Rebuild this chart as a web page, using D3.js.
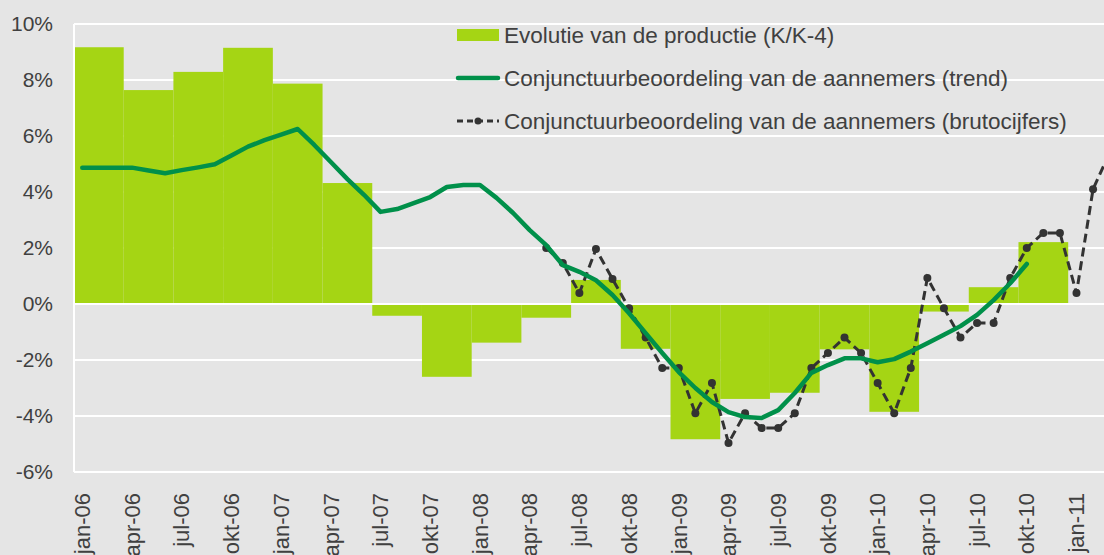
<!DOCTYPE html>
<html>
<head>
<meta charset="utf-8">
<script src="https://cdn.jsdelivr.net/npm/d3@7"></script>
<style>
  body { margin: 0; background: #e5e5e5; }
  svg { display: block; font-family: "Liberation Sans", Arial, sans-serif; }
</style>
</head>
<body>
<div id="chart"></div>
<script>
const monthNames = ["jan", "feb", "mrt", "apr", "mei", "jun", "jul", "aug", "sep", "okt", "nov", "dec"];

// jan-06 .. mar-11
const months = [];
for (let y = 6; y <= 11; y++) {
  monthNames.forEach((m, i) => {
    if (y < 11 || i < 3) months.push(m + "-" + String(y).padStart(2, "0"));
  });
}

const tickLabels = months.filter((m, i) => i % 3 === 0);

// Evolutie van de productie (K/K-4), one value per quarter, Q1-06 .. Q4-10
const production = [9.17, 7.64, 8.29, 9.15, 7.87, 4.32, -0.42, -2.6, -1.38, -0.49,
  0.86, -1.6, -4.83, -3.39, -3.17, -1.62, -3.85, -0.27, 0.6, 2.21];

// trend, jan-06 .. okt-10
const trend = [
  4.87, 4.87, 4.87, 4.87, 4.77, 4.67, 4.78, 4.88, 4.99, 5.3, 5.62, 5.85,
  6.05, 6.25, 5.68, 5.07, 4.46, 3.9, 3.29, 3.39, 3.6, 3.82, 4.18, 4.25,
  4.25, 3.79, 3.25, 2.64, 2.1, 1.39, 1.15, 0.85, 0.32, -0.33, -1.04, -1.75,
  -2.43, -3.0, -3.5, -3.86, -4.04, -4.07, -3.79, -3.18, -2.46, -2.18, -1.94, -1.94,
  -2.08, -1.97, -1.7, -1.4, -1.1, -0.79, -0.39, 0.14, 0.74, 1.43
];

// brutocijfers, mei-08 .. mrt-11
const brutoStart = "mei-08";
const bruto = [
  2.0, 1.46, 0.39, 1.96, 0.89, -0.15, -1.2, -2.29,
  -2.29, -3.9, -2.82, -4.96, -3.9, -4.43, -4.43, -3.9, -2.29, -1.75, -1.2, -1.75,
  -2.82, -3.9, -2.29, 0.93, -0.15, -1.2, -0.68, -0.68, 0.93, 2.0, 2.54, 2.54,
  0.39, 4.1, 5.4
];

const yTicks = [-6, -4, -2, 0, 2, 4, 6, 8, 10];

const legendItems = [
  "Evolutie van de productie (K/K-4)",
  "Conjunctuurbeoordeling van de aannemers (trend)",
  "Conjunctuurbeoordeling van de aannemers (brutocijfers)"
];

const w = 1104;
const h = 555;
const plotLeft = 74;
const plotTop = 24;
const plotBottom = 472;
const monthWidth = 16.57;

const barColor = "#a5d514";
const trendColor = "#00904a";
const brutoColor = "#333333";
const textColor = "#404040";

const svg = d3.select("#chart")
  .append("svg")
  .attr("width", w)
  .attr("height", h);

svg.append("rect")
  .attr("width", w)
  .attr("height", h)
  .attr("fill", "#e5e5e5");

const xScale = d3.scaleBand()
  .domain(months)
  .range([plotLeft, plotLeft + months.length * monthWidth])
  .padding(0);

const yScale = d3.scaleLinear()
  .domain([-6, 10])
  .range([plotBottom, plotTop]);

const xMid = (m) => xScale(m) + xScale.bandwidth() / 2;

// gridlines
svg.append("g")
  .selectAll("line")
  .data(yTicks)
  .enter()
  .append("line")
  .attr("x1", plotLeft)
  .attr("x2", w)
  .attr("y1", (d) => yScale(d))
  .attr("y2", (d) => yScale(d))
  .attr("stroke", "white")
  .attr("stroke-width", 2);

// bars
svg.append("g")
  .selectAll("rect")
  .data(production)
  .enter()
  .append("rect")
  .attr("x", (d, i) => xScale(months[i * 3]))
  .attr("width", xScale.bandwidth() * 3)
  .attr("y", (d) => yScale(Math.max(0, d)))
  .attr("height", (d) => Math.abs(yScale(d) - yScale(0)))
  .attr("fill", barColor);

// zero line + left axis line
svg.append("line")
  .attr("x1", plotLeft).attr("x2", w)
  .attr("y1", yScale(0)).attr("y2", yScale(0))
  .attr("stroke", "white")
  .attr("stroke-width", 2);

svg.append("line")
  .attr("x1", plotLeft).attr("x2", plotLeft)
  .attr("y1", yScale(10)).attr("y2", yScale(-6))
  .attr("stroke", "white")
  .attr("stroke-width", 2);

// bruto dashed line
const brutoOffset = months.indexOf(brutoStart);
const brutoLine = d3.line()
  .x((d, i) => xMid(months[brutoOffset + i]))
  .y((d) => yScale(d));

svg.append("path")
  .datum(bruto)
  .attr("d", brutoLine)
  .attr("fill", "none")
  .attr("stroke", brutoColor)
  .attr("stroke-width", 3)
  .attr("stroke-dasharray", "9,5");

svg.append("g")
  .selectAll("circle")
  .data(bruto)
  .enter()
  .append("circle")
  .attr("cx", (d, i) => xMid(months[brutoOffset + i]))
  .attr("cy", (d) => yScale(d))
  .attr("r", 4)
  .attr("fill", brutoColor);

// trend line
const trendLine = d3.line()
  .x((d, i) => xMid(months[i]))
  .y((d) => yScale(d));

svg.append("path")
  .datum(trend)
  .attr("d", trendLine)
  .attr("fill", "none")
  .attr("stroke", trendColor)
  .attr("stroke-width", 4.5)
  .attr("stroke-linejoin", "round")
  .attr("stroke-linecap", "round");

// y axis
const yAxis = d3.axisLeft(yScale)
  .tickValues(yTicks)
  .tickSize(0)
  .tickPadding(0)
  .tickFormat((d) => d + "%");

svg.append("g")
  .attr("transform", "translate(53,0)")
  .call(yAxis)
  .call((g) => g.select(".domain").remove())
  .selectAll("text")
  .attr("fill", textColor)
  .style("font-size", "21px")
  .style("font-family", "'Liberation Sans', Arial, sans-serif");

// x axis
const xAxis = d3.axisBottom(xScale)
  .tickValues(tickLabels)
  .tickSize(0);

svg.append("g")
  .attr("transform", "translate(0," + plotBottom + ")")
  .call(xAxis)
  .call((g) => g.select(".domain").remove())
  .selectAll("text")
  .attr("fill", textColor)
  .style("font-size", "22px")
  .style("font-family", "'Liberation Sans', Arial, sans-serif")
  .attr("text-anchor", "end")
  .attr("dy", "0.35em")
  .attr("transform", "translate(0,21) rotate(-90)")
  .attr("x", 0)
  .attr("y", 0);

// legend
const legend = svg.append("g")
  .attr("transform", "translate(457,0)");

const rowY = [35, 78, 121];

legend.append("rect")
  .attr("x", 0).attr("y", rowY[0] - 6)
  .attr("width", 42).attr("height", 12)
  .attr("fill", barColor);

legend.append("line")
  .attr("x1", 1).attr("x2", 41)
  .attr("y1", rowY[1]).attr("y2", rowY[1])
  .attr("stroke", trendColor)
  .attr("stroke-width", 4.5)
  .attr("stroke-linecap", "round");

legend.append("line")
  .attr("x1", 0).attr("x2", 42)
  .attr("y1", rowY[2]).attr("y2", rowY[2])
  .attr("stroke", brutoColor)
  .attr("stroke-width", 3)
  .attr("stroke-dasharray", "6,4");

legend.append("circle")
  .attr("cx", 21).attr("cy", rowY[2])
  .attr("r", 3.5)
  .attr("fill", brutoColor);

legend.selectAll("text")
  .data(legendItems)
  .enter()
  .append("text")
  .attr("x", 47)
  .attr("y", (d, i) => rowY[i])
  .attr("dy", "0.36em")
  .attr("fill", textColor)
  .style("font-size", "22.5px")
  .text((d) => d);
</script>
</body>
</html>
